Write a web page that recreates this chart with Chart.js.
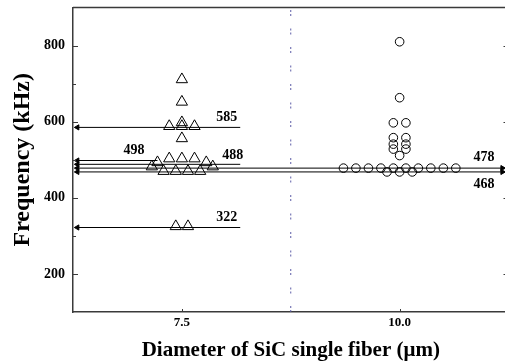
<!DOCTYPE html>
<html>
<head>
<meta charset="utf-8">
<script src="https://cdn.jsdelivr.net/npm/chart.js@4/dist/chart.umd.min.js"></script>
<style>
  html, body { margin: 0; padding: 0; background: #fff; overflow: hidden; }
</style>
</head>
<body>
<canvas id="chart" width="516" height="363"></canvas>
<script>
// 7.5 um fibers (triangles)
const fiber75X = [7.5, 7.5, 7.5, 7.355, 7.5, 7.645, 7.5,
  7.355, 7.5, 7.645, 7.22, 7.78, 7.155, 7.855,
  7.29, 7.43, 7.57, 7.71, 7.43, 7.57];
const fiber75Y = [711, 652, 598, 588, 588, 588, 556,
  503, 503, 503, 493, 493, 482, 482,
  470, 470, 470, 470, 325, 325];

// 10.0 um fibers (circles)
const fiber100X = [10, 10, 9.928, 10.072, 9.928, 10.072, 9.928, 10.072, 9.928, 10.072, 10,
  9.355, 9.498, 9.642, 9.785, 9.928, 10.072, 10.215, 10.358, 10.502, 10.645,
  9.855, 10, 10.145];
const fiber100Y = [810, 663, 597, 597, 558, 558, 541, 541, 528, 528, 511,
  478, 478, 478, 478, 478, 478, 478, 478, 478, 478,
  468, 468, 468];

// mean frequency levels
const levelValues = [585, 498, 488, 322, 478, 468];
const levelLabels = ['585', '498', '488', '322', '478', '468'];
const levelStart = [6.3, 6.3, 6.3, 6.3, 6.3, 6.3];
const levelEnd = [8.17, 7.22, 8.17, 8.17, 11.18, 11.18];
const levelArrowRight = [false, false, false, false, true, true];

const xTicks = [7.5, 10.0];
const yTicks = [200, 400, 600, 800];
const yMinorTicks = [300, 500, 700];
const dividerX = 8.75;
const X_MIN = 6.25, X_MAX = 11.25, Y_MIN = 100, Y_MAX = 900;

// label offsets in px from line end (style only)
const labelOffsets = [[-3, -10], [-13, -10], [3, -9], [-3, -10], [-8, -11], [-8, 12]];

const serif = '"Liberation Serif", "Times New Roman", serif';
const axisColor = '#3a3a3a';

const levelDatasets = levelValues.map((v, i) => ({
  type: 'line',
  data: [{ x: levelStart[i], y: v }, { x: levelEnd[i], y: v }],
  borderColor: '#000',
  borderWidth: 1,
  backgroundColor: '#000',
  pointBorderColor: '#000',
  pointStyle: 'triangle',
  pointRotation: ctx => ctx.dataIndex === 0 ? -90 : 90,
  pointRadius: ctx => (ctx.dataIndex === 0 || levelArrowRight[i]) ? 3 : 0,
  pointBorderWidth: 1,
  clip: false,
}));

const frame = {
  id: 'frame',
  afterDraw(chart) {
    const { ctx, chartArea: a, scales: { x, y } } = chart;
    ctx.save();
    ctx.strokeStyle = axisColor;
    ctx.lineWidth = 1.5;
    ctx.beginPath();
    ctx.moveTo(a.left, a.top);
    ctx.lineTo(a.right, a.top);
    ctx.stroke();
    ctx.lineWidth = 1;
    ctx.beginPath();
    yTicks.forEach(v => {
      const py = Math.round(y.getPixelForValue(v)) + 0.5;
      ctx.moveTo(a.left, py); ctx.lineTo(a.left + 5, py);
      ctx.moveTo(a.right, py); ctx.lineTo(a.right - 5, py);
    });
    yMinorTicks.forEach(v => {
      const py = Math.round(y.getPixelForValue(v)) + 0.5;
      ctx.moveTo(a.left, py); ctx.lineTo(a.left + 3, py);
      ctx.moveTo(a.right, py); ctx.lineTo(a.right - 3, py);
    });
    xTicks.forEach(v => {
      const px = Math.round(x.getPixelForValue(v)) + 0.5;
      ctx.moveTo(px, a.bottom); ctx.lineTo(px, a.bottom - 3);
    });
    ctx.stroke();

    ctx.fillStyle = '#000';
    ctx.font = 'bold 14px ' + serif;
    ctx.textAlign = 'right';
    ctx.textBaseline = 'middle';
    levelValues.forEach((v, i) => {
      const px = x.getPixelForValue(levelEnd[i]) + labelOffsets[i][0];
      const py = y.getPixelForValue(v) + labelOffsets[i][1];
      ctx.fillText(levelLabels[i], px, py);
    });
    ctx.restore();
  }
};

new Chart(document.getElementById('chart'), {
  type: 'scatter',
  data: {
    datasets: [
      {
        type: 'line',
        data: [{ x: dividerX, y: Y_MIN }, { x: dividerX, y: Y_MAX }],
        borderColor: '#5b5ba6',
        borderWidth: 1,
        borderDash: [2, 2, 2, 12.5],
        pointRadius: 0,
      },
      ...levelDatasets,
      {
        data: fiber75X.map((x, i) => ({ x, y: fiber75Y[i] })),
        pointStyle: 'triangle',
        pointRadius: 6.5,
        borderColor: '#000',
        borderWidth: 1,
        backgroundColor: 'rgba(0,0,0,0)',
      },
      {
        data: fiber100X.map((x, i) => ({ x, y: fiber100Y[i] })),
        pointStyle: 'circle',
        pointRadius: 4.3,
        borderColor: '#000',
        borderWidth: 1,
        backgroundColor: 'rgba(0,0,0,0)',
      },
    ]
  },
  options: {
    responsive: false,
    animation: false,
    layout: { padding: { top: 1, right: 0, left: 0, bottom: 0 } },
    plugins: { legend: { display: false }, tooltip: { enabled: false } },
    elements: { point: { hoverRadius: 0 } },
    scales: {
      x: {
        type: 'linear',
        min: X_MIN, max: X_MAX,
        afterBuildTicks: s => { s.ticks = xTicks.map(value => ({ value })); },
        afterFit: s => { s.height = 51; s.paddingLeft = 0; s.paddingRight = 0; },
        grid: { display: false, drawTicks: false },
        border: { display: true, color: axisColor, width: 1.5 },
        ticks: {
          padding: 3,
          color: '#000',
          font: { family: serif, size: 13, weight: 'bold' },
          callback: v => Number(v).toFixed(1),
          maxRotation: 0,
        },
        title: {
          display: true,
          text: 'Diameter of SiC single fiber (\u03bcm)',
          color: '#000',
          font: { family: serif, size: 21, weight: 'bold' },
          padding: { top: 0, bottom: 0 },
        },
      },
      y: {
        min: Y_MIN, max: Y_MAX,
        afterBuildTicks: s => { s.ticks = yTicks.map(value => ({ value })); },
        afterFit: s => { s.width = 73; s.paddingTop = 0; s.paddingBottom = 0; },
        grid: { display: false, drawTicks: false },
        border: { display: true, color: axisColor, width: 1.5 },
        ticks: {
          padding: 8,
          color: '#000',
          font: { family: serif, size: 14, weight: 'bold' },
        },
        title: {
          display: true,
          text: 'Frequency (kHz)',
          color: '#000',
          font: { family: serif, size: 24, weight: 'bold' },
          padding: { top: 8, bottom: 0 },
        },
      },
    },
  },
  plugins: [frame],
});
</script>
</body>
</html>
